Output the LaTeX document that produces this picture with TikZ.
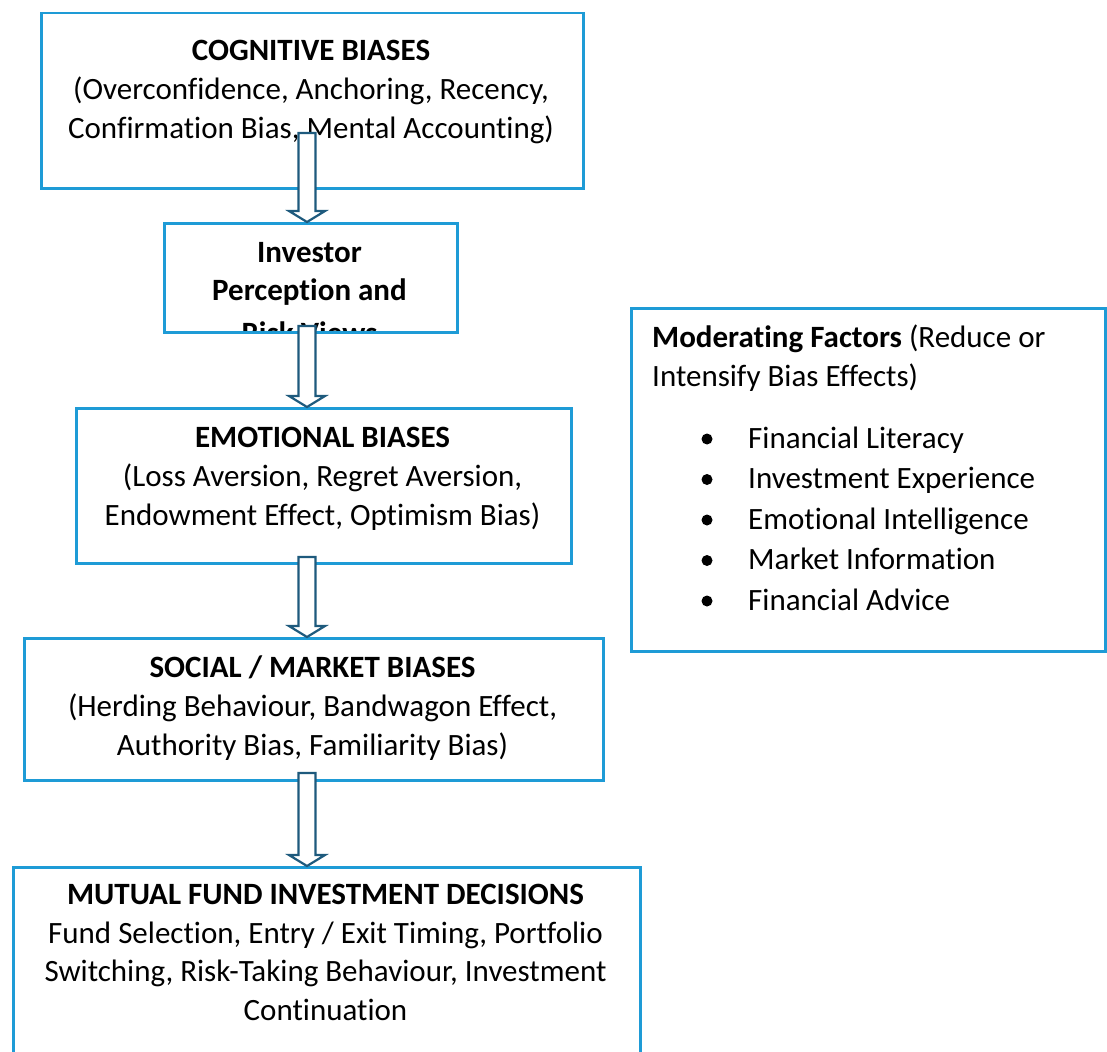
\documentclass[tikz,border=0pt]{standalone}
\usepackage{fontspec}
\setmainfont{Carlito}[Ligatures={NoCommon,NoRequired}]
\usetikzlibrary{calc,positioning}

\definecolor{boxblue}{RGB}{30,155,214}
\definecolor{arrowblue}{RGB}{30,90,125}

\tikzset{
  biasbox/.style={draw=boxblue,line width=2.5pt,fill=white,inner sep=0pt},
  boxtext/.style={align=center,inner sep=0pt,font=\fontsize{31pt}{39pt}\selectfont},
  flowarrow/.style={draw=arrowblue,line width=2.2pt,fill=white,line join=miter}
}

% hollow block arrow from #1 down to #2
\newcommand{\flowarrow}[2]{%
  \draw[flowarrow] let \p1=(#1), \p2=(#2) in
    ({\x1-8.5pt},\y1) -- ({\x1+8.5pt},\y1) -- ({\x1+8.5pt},{\y2+11pt})
    -- ({\x1+18pt},{\y2+11pt}) -- (\x1,\y2) -- ({\x1-18pt},{\y2+11pt})
    -- ({\x1-8.5pt},{\y2+11pt}) -- cycle;}

\begin{document}
\begin{tikzpicture}[x=1pt,y=-1pt]
        \useasboundingbox (0,0) rectangle (1107,1051);
        \fill[white] (0,0) rectangle (1107,1051);

        % boxes
        \node[biasbox,anchor=north west,minimum width=542pt,minimum height=175pt] (cog) at (40,12) {};
        \node[biasbox,anchor=north west,minimum width=293pt,minimum height=109pt] (inv) at (163,222) {};
        \node[biasbox,anchor=north west,minimum width=495pt,minimum height=155pt] (emo) at (75,407) {};
        \node[biasbox,anchor=north west,minimum width=579pt,minimum height=142pt] (soc) at (23,637) {};
        \node[biasbox,anchor=north west,minimum width=627pt,minimum height=210pt] (mfd) at (12,866) {};
        \node[biasbox,anchor=north west,minimum width=474pt,minimum height=343pt] (mod) at (630,307) {};

        % texts
        \node[boxtext,anchor=north] (cogtext) at (311,40) {\textbf{COGNITIVE BIASES}\\(Overconfidence, Anchoring, Recency,\\Confirmation Bias, Mental Accounting)};
        \begin{scope}
          \clip ($(inv.south west)+(0,-1)$) rectangle (inv.north east);
          \node[boxtext,anchor=north,font=\bfseries\fontsize{31pt}{38pt}\selectfont] (invtext) at (309.5,242) {Investor\\Perception and\\[5pt]Risk Views};
        \end{scope}
        \node[biasbox,fill=none,anchor=north west,minimum width=293pt,minimum height=109pt] (invframe) at (163,222) {};
        \node[boxtext,anchor=north] (emotext) at (322.5,427) {\textbf{EMOTIONAL BIASES}\\(Loss Aversion, Regret Aversion,\\Endowment Effect, Optimism Bias)};
        \node[boxtext,anchor=north] (soctext) at (312.5,656) {\textbf{SOCIAL / MARKET BIASES}\\(Herding Behaviour, Bandwagon Effect,\\Authority Bias, Familiarity Bias)};
        \node[boxtext,anchor=north,font=\fontsize{31pt}{38.7pt}\selectfont] (mfdtext) at (325.5,884) {\textbf{MUTUAL FUND INVESTMENT DECISIONS}\\Fund Selection, Entry / Exit Timing, Portfolio\\Switching, Risk-Taking Behaviour, Investment\\Continuation};

        \node[boxtext,align=left,anchor=north west] (modhead) at (652,325) {\textbf{Moderating Factors} (Reduce or\\Intensify Bias Effects)};
        \foreach \factor [count=\i] in {Financial Literacy,Investment Experience,Emotional Intelligence,Market Information,Financial Advice}{
          \node[boxtext,anchor=base west] (fac\i) at (748,{448+40.5*(\i-1)}) {\factor};
          \fill ($(fac\i.base west)+(-41,-9)$) circle (5.5pt);
        }

        % arrows
        \coordinate (a1) at (307,133);
        \coordinate (a2) at (307,326);
        \coordinate (a3) at (307,557);
        \coordinate (a4) at (307,773);
        \flowarrow{a1}{a1 |- inv.north}
        \flowarrow{a2}{a2 |- emo.north}
        \flowarrow{a3}{a3 |- soc.north}
        \flowarrow{a4}{a4 |- mfd.north}
\end{tikzpicture}
\end{document}
